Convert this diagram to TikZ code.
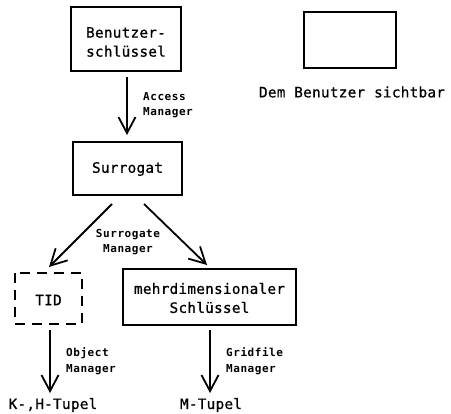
\documentclass[tikz,border=0pt]{standalone}
\usepackage{fontspec}
\setmonofont[LetterSpace=2,FakeBold=0.8]{DejaVu Sans Mono}
\newfontfamily\lblfont[LetterSpace=5]{DejaVu Sans Mono Bold}
\usetikzlibrary{arrows.meta}
\begin{document}
\begin{tikzpicture}[x=1pt,y=-1pt,
  box/.style={draw,line width=1.8pt},
  dbox/.style={draw,line width=1.8pt,dash pattern=on 10pt off 7pt},
  txt/.style={font=\ttfamily\fontsize{14.3}{19}\selectfont,align=center,inner sep=0pt},
  lbl/.style={font=\lblfont\fontsize{11}{15.5}\selectfont,align=left,inner sep=0pt,anchor=west},
  flow/.style={line width=1.8pt,-{Straight Barb[length=16pt,width=17pt,line width=1.8pt]}}]
\useasboundingbox (0,0) rectangle (451,414);
% boxes
\draw[box] (71,7) rectangle (181,71);
\node[txt] (bk) at (126,42) {Benutzer-\\schlüssel};
\draw[box] (73,142) rectangle (182,195);
\node[txt] (sur) at (127.5,169) {Surrogat};
\draw[dbox] (15,273) rectangle (82,324);
\node[txt] (tid) at (48.5,300) {TID};
\draw[box] (123,269) rectangle (296,325);
\node[txt] (ms) at (209.5,298) {mehrdimensionaler\\Schlüssel};
% legend
\draw[box] (304,12) rectangle (396,68);
\node[txt] (leg) at (352,92) {Dem Benutzer sichtbar};
% connector endpoints
\coordinate (a1) at (127,77);  \coordinate (a2) at (127,135);
\coordinate (b1) at (112,204); \coordinate (b2) at (49,267);
\coordinate (c1) at (144,204); \coordinate (c2) at (207,265);
\coordinate (d1) at (50,330);  \coordinate (d2) at (50,393);
\coordinate (e1) at (210,330); \coordinate (e2) at (210,393);
\draw[flow] (a1) -- (a2);
\draw[flow] (b1) -- (b2);
\draw[flow] (c1) -- (c2);
\draw[flow] (d1) -- (d2);
\draw[flow] (e1) -- (e2);
% labels
\node[lbl] (am) at (143,105) {Access\\Manager};
\node[lbl,anchor=center,align=center] (sm) at (128,242) {Surrogate\\Manager};
\node[lbl] (om) at (66,361) {Object\\Manager};
\node[lbl] (gm) at (226,361) {Gridfile\\Manager};
\node[txt] (kh) at (53,405) {K-,H-Tupel};
\node[txt] (mt) at (211,405) {M-Tupel};
\end{tikzpicture}
\end{document}
